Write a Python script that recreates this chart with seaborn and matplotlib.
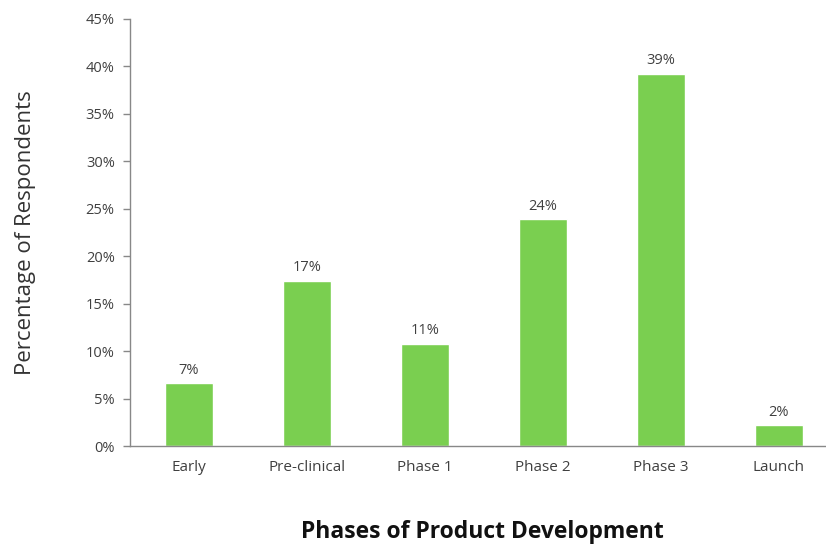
import matplotlib
matplotlib.use("Agg")
import matplotlib.pyplot as plt
import seaborn as sns
import pandas as pd
from matplotlib.ticker import MultipleLocator, FuncFormatter

phases = ["Early", "Pre-clinical", "Phase 1", "Phase 2", "Phase 3", "Launch"]
share_pct = [6.6, 17.4, 10.8, 23.9, 39.2, 2.2]

df = pd.DataFrame({"phase": phases, "share": share_pct})

sns.set_theme(style="white")
plt.rcParams["font.family"] = ["Open Sans", "DejaVu Sans"]

fig = plt.figure(figsize=(8.26, 5.46), dpi=100)
ax = fig.add_axes([130 / 826, 100 / 546, 708 / 826, 427 / 546])

bar_color = "#7ACF50"
sns.barplot(data=df, x="phase", y="share", color=bar_color, width=0.41,
            saturation=1, ax=ax)

ax.set_xlim(-0.5, len(phases) - 0.5)
ax.set_ylim(0, 45)
ax.yaxis.set_major_locator(MultipleLocator(5))
ax.yaxis.set_major_formatter(FuncFormatter(lambda v, _: f"{v:.0f}%"))

# category separators on the x axis
ax.set_xticks([i - 0.5 for i in range(len(phases) + 1)], minor=False)
ax.set_xticklabels([])
ax.set_xticks(range(len(phases)), minor=True)
ax.set_xticklabels(phases, minor=True)
ax.tick_params(axis="x", which="major", length=6, width=1, color="#888888",
               direction="out")
ax.tick_params(axis="x", which="minor", length=0, pad=10, labelsize=11,
               labelcolor="#404040")
ax.tick_params(axis="y", length=5, width=1, color="#888888", direction="out",
               pad=6, labelsize=10.5, labelcolor="#404040", left=True)

for side in ("top", "right"):
    ax.spines[side].set_visible(False)
for side in ("left", "bottom"):
    ax.spines[side].set_color("#888888")
    ax.spines[side].set_linewidth(1)

for i, v in enumerate(share_pct):
    ax.annotate(f"{v:.0f}%", (i, v), xytext=(0, 4), textcoords="offset points",
                ha="center", va="bottom", fontsize=10.5, color="#404040")

ax.set_ylabel("Percentage of Respondents", fontsize=16, color="#333333",
              labelpad=36)
ax.set_xlabel("Phases of Product Development", fontsize=16.5, fontweight="bold",
              color="#111111", va="center")
ax.xaxis.set_label_coords(0.497, -86 / 427)

fig.savefig("out.png", dpi=100)
